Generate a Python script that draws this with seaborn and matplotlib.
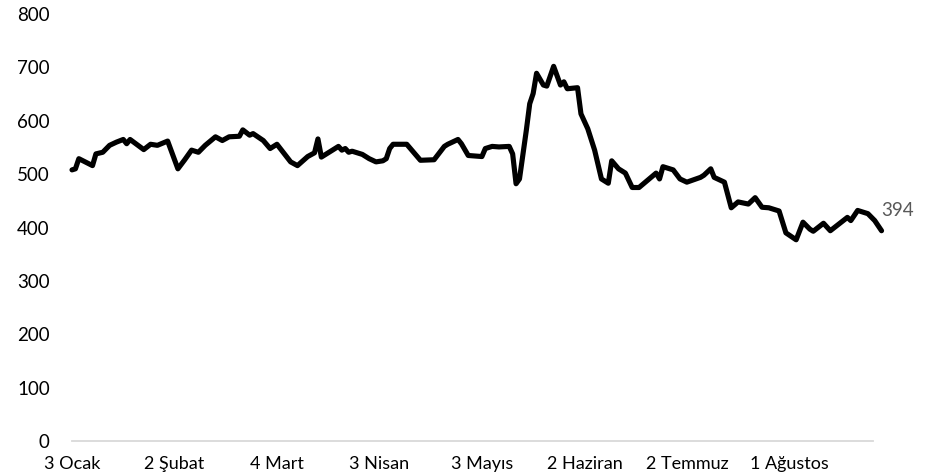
import seaborn as sns
import matplotlib.pyplot as plt
import matplotlib.dates as mdates
import pandas as pd

# values (day offset from 3 Ocak, value)
start_date = "2022-01-03"
day_offsets = [0, 1, 2, 6, 7, 9, 11, 13, 15, 16, 17, 21, 23, 25, 28, 31, 33, 35, 37, 39,
               42, 44, 46, 49, 50, 52, 53, 56, 58, 60, 64, 66, 69, 71, 72, 73, 78, 79, 80, 81,
               82, 85, 87, 89, 91, 92, 93, 94, 98, 102, 106, 109, 110, 113, 114, 116, 120, 121, 123, 125,
               128, 129, 130, 131, 133, 134, 135, 136, 138, 139, 141, 143, 144, 145, 148, 149, 151, 153, 155, 157,
               158, 160, 162, 164, 166, 171, 172, 173, 175, 176, 178, 180, 184, 185, 187, 188, 191, 193, 195, 198,
               200, 202, 204, 207, 209, 212, 214, 216, 217, 220, 222, 227, 228, 230, 233, 235, 237]
values = [508, 510, 529, 516, 538, 541, 554, 560, 565, 557, 565, 546, 556, 554, 562, 510, 527, 545, 541, 554,
          570, 563, 570, 571, 583, 573, 576, 563, 548, 556, 523, 516, 533, 540, 566, 532, 552, 545, 548, 541,
          543, 537, 529, 523, 525, 529, 548, 556, 556, 526, 527, 552, 556, 565, 557, 535, 533, 548, 552, 551,
          552, 538, 482, 491, 582, 632, 651, 689, 667, 665, 702, 667, 673, 660, 662, 613, 585, 545, 491, 483,
          525, 510, 502, 475, 475, 502, 491, 514, 510, 508, 491, 485, 494, 498, 510, 494, 485, 437, 448, 444,
          456, 438, 437, 431, 390, 377, 410, 397, 393, 408, 394, 419, 413, 432, 426, 413, 394]

tick_dates = ["2022-01-03", "2022-02-02", "2022-03-04", "2022-04-03",
              "2022-05-03", "2022-06-02", "2022-07-02", "2022-08-01"]
tick_labels = ["3 Ocak", "2 Şubat", "4 Mart", "3 Nisan",
               "3 Mayıs", "2 Haziran", "2 Temmuz", "1 Ağustos"]
y_ticks = [0, 100, 200, 300, 400, 500, 600, 700, 800]
end_label = "394"

sns.set_style("white")
plt.rcParams['font.family'] = ['Lato', 'DejaVu Sans']

df = pd.DataFrame({
    'date': pd.Timestamp(start_date) + pd.to_timedelta(day_offsets, unit='D'),
    'value': values,
})

fig = plt.figure(figsize=(9.34, 4.76), dpi=100)
ax = fig.add_axes([0.0771, 0.0735, 0.8576, 0.897])

sns.lineplot(data=df, x='date', y='value', color='black', linewidth=3.7, ax=ax)
for ln in ax.get_lines():
    ln.set_clip_on(False)
    ln.set_solid_joinstyle('round')
    ln.set_solid_capstyle('round')

# label at the last point
ax.annotate(end_label, xy=(df['date'].iloc[-1], df['value'].iloc[-1]),
            xytext=(0, 20), textcoords='offset pixels', annotation_clip=False,
            ha='left', va='center', fontsize=13.5, color='#595959')

ax.set_xlim(pd.Timestamp(start_date), pd.Timestamp(start_date) + pd.Timedelta(days=234.5))
ax.set_ylim(0, 800)
ax.set_yticks(y_ticks)
ax.set_xticks(mdates.date2num(pd.to_datetime(tick_dates)))
ax.set_xticklabels(tick_labels)

for side in ['left', 'right', 'top']:
    ax.spines[side].set_visible(False)
ax.spines['bottom'].set_color('#d9d9d9')
ax.spines['bottom'].set_linewidth(1.3)

ax.tick_params(axis='x', direction='out', length=5, width=1.3, color='#d9d9d9',
               labelsize=13, labelcolor='black', pad=6)
ax.tick_params(axis='y', length=0, labelsize=13.5, labelcolor='black', pad=16)
ax.set_xlabel('')
ax.set_ylabel('')
ax.grid(False)

fig.savefig('out.png', dpi=100)
